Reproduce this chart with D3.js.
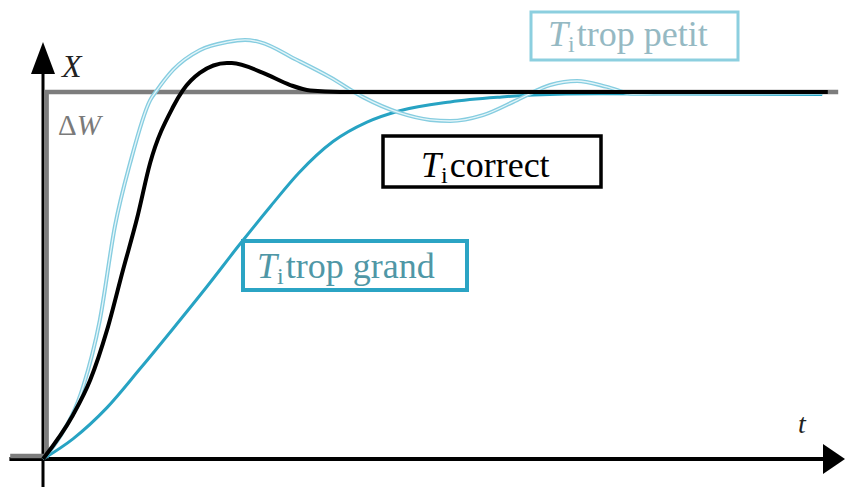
<!DOCTYPE html>
<html>
<head>
<meta charset="utf-8">
<script src="https://cdn.jsdelivr.net/npm/d3@7"></script>
</head>
<body style="margin:0">
<svg id="chart" width="845" height="487"></svg>
<script>
// time axis (arbitrary units) and response values (1 = setpoint W)
const tCorrect = [0, 3.75, 5.9, 8.0, 10.0, 11.75, 13.4, 16.25, 17.5, 19.6, 23.0, 23.6, 27.5, 30.9, 33.4, 37.1, 98.1];
const xCorrect = [0, 0.12, 0.215, 0.351, 0.515, 0.655, 0.807, 0.959, 1.005, 1.052, 1.079, 1.079, 1.052, 1.019, 1.004, 1.0, 1.0];

const tPetit = [0, 2.1, 5.0, 7.1, 9.0, 10.9, 13.4, 14.25, 16.25, 19.6, 23.0, 25.25, 27.1, 31.75, 35.9, 40.0, 44.6, 48.4, 50.9, 55.0, 59.25, 63.4, 66.75, 70.5, 73.75, 79, 97.4];
const xPetit = [0, 0.06, 0.196, 0.378, 0.635, 0.807, 0.978, 1.005, 1.06, 1.114, 1.136, 1.142, 1.136, 1.087, 1.04, 0.986, 0.943, 0.924, 0.921, 0.937, 0.978, 1.019, 1.03, 1.014, 0.995, 0.997, 0.997];

const tGrand = [0, 3.75, 8.0, 12.1, 16.25, 20.5, 24.6, 28.5, 32.0, 36.25, 40.5, 44.6, 50.9, 57.1, 61.25, 69.5, 97.4];
const xGrand = [0, 0.055, 0.14, 0.245, 0.355, 0.47, 0.585, 0.69, 0.78, 0.865, 0.918, 0.949, 0.973, 0.986, 0.992, 0.995, 0.993];

// setpoint step W
const tStep = [-4.1, 0.45, 0.45, 99.4];
const wStep = [0.008, 0.008, 1, 1];

const labels = ['trop petit', 'correct', 'trop grand'];

const svg = d3.select('#chart')
  .attr('font-family', 'Liberation Serif')
  .style('font-family', '"Liberation Serif"');

const x = d3.scaleLinear().domain([0, 100]).range([43, 843]);
const y = d3.scaleLinear().domain([0, 1]).range([459, 92]);

const zip = (ts, vs) => ts.map((t, i) => [t, vs[i]]);
const line = d3.line()
  .x((d) => x(d[0]))
  .y((d) => y(d[1]))
  .curve(d3.curveMonotoneX);

// axes
svg.append('line')
  .attr('x1', x(-4.2)).attr('x2', x(98))
  .attr('y1', y(0)).attr('y2', y(0))
  .attr('stroke', '#000').attr('stroke-width', 4);
svg.append('path')
  .attr('d', d3.line()([[x(97.5), y(0) - 15], [845, y(0)], [x(97.5), y(0) + 15]]))
  .attr('fill', '#000');
svg.append('line')
  .attr('x1', x(0)).attr('x2', x(0))
  .attr('y1', 487).attr('y2', 70)
  .attr('stroke', '#000').attr('stroke-width', 3);
svg.append('path')
  .attr('d', d3.line()([[x(0) - 12, 74], [x(0), 42], [x(0) + 12, 74]]))
  .attr('fill', '#000');

// setpoint
svg.append('path')
  .attr('d', d3.line().x((d) => x(d[0])).y((d) => y(d[1]))(zip(tStep, wStep)))
  .attr('fill', 'none')
  .attr('stroke', '#7d7d7d')
  .attr('stroke-width', 4.5);

// curves
svg.append('path')
  .attr('d', line(zip(tGrand, xGrand)))
  .attr('fill', 'none')
  .attr('stroke', '#27a3c3')
  .attr('stroke-width', 3);

svg.append('path')
  .attr('d', line(zip(tPetit, xPetit)))
  .attr('fill', 'none')
  .attr('stroke', '#86cde0')
  .attr('stroke-width', 4);
svg.append('path')
  .attr('d', line(zip(tPetit, xPetit)))
  .attr('fill', 'none')
  .attr('stroke', '#e4f5f9')
  .attr('stroke-width', 1.3);

svg.append('path')
  .attr('d', line(zip(tCorrect, xCorrect)))
  .attr('fill', 'none')
  .attr('stroke', '#000')
  .attr('stroke-width', 4);

function addText(px, py, size, color) {
  return svg.append('text')
    .attr('x', px).attr('y', py)
    .attr('font-family', 'Liberation Serif')
    .style('font-family', '"Liberation Serif"')
    .style('font-size', `${size}px`)
    .style('fill', color);
}

// axis labels
addText(62, 77, 32, '#222').style('font-style', 'italic').text('X');
const dw = addText(58, 135, 29, '#7a7a7a');
dw.append('tspan').text('\u0394');
dw.append('tspan').style('font-style', 'italic').text('W');
addText(798, 433, 28, '#222').style('font-style', 'italic').text('t');

// annotation boxes
const boxes = [
  { x0: 531, y0: 12, w: 207, h: 48, stroke: '#8ccfdf', sw: 3, fill: '#95b9c3', tx: 548, ty: 46 },
  { x0: 383, y0: 136, w: 218, h: 51, stroke: '#000', sw: 3.5, fill: '#000', tx: 421, ty: 177 },
  { x0: 243, y0: 241, w: 224, h: 49, stroke: '#2ba4c4', sw: 4, fill: '#4f97a6', tx: 257, ty: 278 },
];
boxes.forEach((b, i) => {
  svg.append('rect')
    .attr('x', b.x0).attr('y', b.y0)
    .attr('width', b.w).attr('height', b.h)
    .attr('fill', '#fff')
    .attr('stroke', b.stroke)
    .attr('stroke-width', b.sw);
  const t = addText(b.tx, b.ty, 36, b.fill);
  t.append('tspan').style('font-style', 'italic').text('T');
  t.append('tspan').style('font-size', '24px').attr('dy', 6).text('i');
  t.append('tspan').attr('dy', -6).attr('dx', 2).text(labels[i]);
});
</script>
</body>
</html>
